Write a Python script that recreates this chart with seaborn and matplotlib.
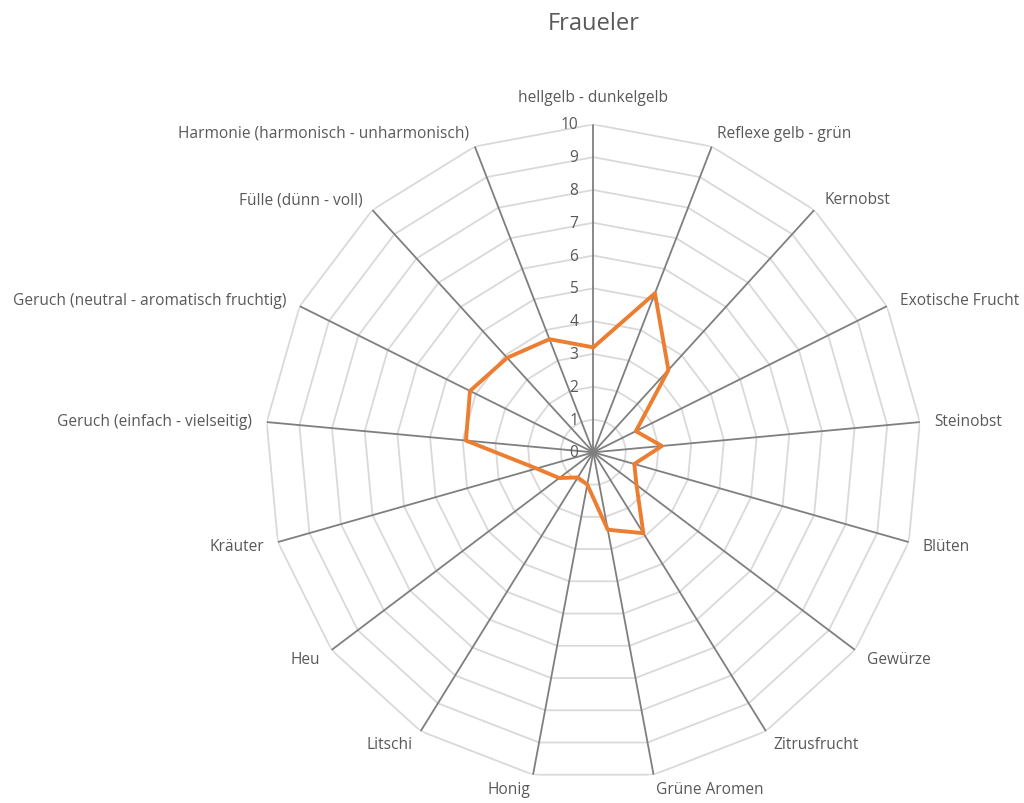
import numpy as np
import pandas as pd
import matplotlib
matplotlib.use("Agg")
import matplotlib.pyplot as plt
import matplotlib.transforms as mtransforms
import seaborn as sns

# Tasting profile of the "Fraueler" wine
title = "Fraueler"
categories = [
    "hellgelb - dunkelgelb",
    "Reflexe gelb - grün",
    "Kernobst",
    "Exotische Frucht",
    "Steinobst",
    "Blüten",
    "Gewürze",
    "Zitrusfrucht",
    "Grüne Aromen",
    "Honig",
    "Litschi",
    "Heu",
    "Kräuter",
    "Geruch (einfach - vielseitig)",
    "Geruch (neutral - aromatisch fruchtig)",
    "Fülle (dünn - voll)",
    "Harmonie (harmonisch - unharmonisch)",
]
scores = [3.2, 5.2, 3.4, 1.45, 2.1, 1.3, 1.65, 2.9, 2.4, 1.0, 0.9, 1.3, 1.8, 3.9, 4.2, 3.9, 3.7]
scale_ticks = list(range(0, 11))

sns.set_theme(style="white")
plt.rcParams["font.family"] = ["Open Sans", "DejaVu Sans"]

text_color = "#595959"
ring_color = "#d9d9d9"
spoke_color = "#7f7f7f"
series_color = "#ED7D31"
label_size = 11.2

fig = plt.figure(figsize=(10.24, 8.04), dpi=100)
ax = fig.add_axes([0.2591, 0.0282, 0.6406, 0.8159], projection="polar")
ax.set_theta_zero_location("N")
ax.set_theta_direction(-1)
ax.set_ylim(0, scale_ticks[-1])
ax.grid(False)
ax.spines["polar"].set_visible(False)
ax.set_xticks([])
ax.set_yticks([])
ax.patch.set_alpha(0)

n = len(categories)
theta = np.linspace(0, 2 * np.pi, n, endpoint=False)
theta_closed = np.append(theta, 2 * np.pi)

# Polygonal grid rings
for r in scale_ticks[1:]:
    ax.plot(theta_closed, np.full(n + 1, r), color=ring_color, lw=1.3, zorder=1)

# Spokes
for t in theta:
    ax.plot([t, t], [0, scale_ticks[-1]], color=spoke_color, lw=1.3, zorder=2)

# Data series
df = pd.DataFrame({"theta": theta_closed, "value": scores + scores[:1]})
sns.lineplot(data=df, x="theta", y="value", sort=False, estimator=None,
             color=series_color, linewidth=2.8, ax=ax, zorder=3,
             solid_joinstyle="round")
ax.set_xlabel("")
ax.set_ylabel("")

# Scale labels along the vertical axis
tick_tf = mtransforms.offset_copy(ax.transData, fig=fig, x=-15, y=0, units="dots")
for v in scale_ticks:
    ax.text(0, v, str(v), transform=tick_tf, ha="right", va="center",
            fontsize=label_size, color=text_color, zorder=4)

# Category labels around the outside
for t, lab in zip(theta, categories):
    s = np.sin(t)
    c = np.cos(t)
    if abs(s) < 0.05:
        ha = "center"
        va = "bottom" if c > 0 else "top"
        r = 10.6
    else:
        ha = "left" if s > 0 else "right"
        va = "center"
        r = 10.45
    ax.text(t, r, lab, ha=ha, va=va, fontsize=label_size, color=text_color)

fig.text(0.58, 0.97, title, ha="center", va="center", fontsize=17, color=text_color)

fig.savefig("out.png", dpi=100, facecolor="white")
